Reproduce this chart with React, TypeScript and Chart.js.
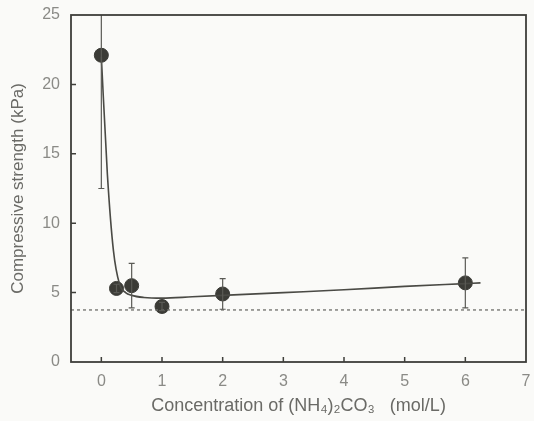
import React, { useEffect, useRef } from "react";
import { Chart, registerables } from "chart.js";

Chart.register(...registerables);

// Measured points
const pointX = [0, 0.25, 0.5, 1, 2, 6];
const pointY = [22.1, 5.3, 5.5, 4.0, 4.9, 5.7];
const errPlus = [9.6, 0.3, 1.6, 0.3, 1.1, 1.8];
const errMinus = [9.6, 0.3, 1.6, 0.3, 1.1, 1.8];

// Fitted curve
const curveX = [0, 0.1, 0.2, 0.3, 0.4, 0.5, 0.7, 1.0, 1.5, 2.0, 3.0, 4.0, 5.0, 6.0, 6.25];
const curveY = [22.0, 13.5, 8.0, 5.6, 5.0, 4.8, 4.65, 4.6, 4.7, 4.8, 5.0, 5.2, 5.45, 5.65, 5.7];

// Dashed reference level
const refLevel = 3.75;

// Axes
const xMin = -0.5;
const xMax = 7;
const xTickValues = [0, 1, 2, 3, 4, 5, 6, 7];
const yMin = 0;
const yMax = 25;
const yTickValues = [0, 5, 10, 15, 20, 25];

const xTitle = "Concentration of (NH₄)₂CO₃   (mol/L)";
const yTitle = "Compressive strength (kPa)";

const FONT = "'Liberation Sans', Arial, sans-serif";

const framePlugin = {
  id: "frameAndErrors",
  afterDatasetsDraw(chart: any) {
    const { ctx, chartArea } = chart;
    const xs = chart.scales.x;
    const ys = chart.scales.y;
    ctx.save();
    ctx.beginPath();
    ctx.rect(chartArea.left, chartArea.top, chartArea.right - chartArea.left, chartArea.bottom - chartArea.top);
    ctx.clip();
    ctx.strokeStyle = "#5a5a55";
    ctx.lineWidth = 1.2;
    for (let i = 0; i < pointX.length; i++) {
      const px = xs.getPixelForValue(pointX[i]);
      const top = ys.getPixelForValue(pointY[i] + errPlus[i]);
      const bot = ys.getPixelForValue(pointY[i] - errMinus[i]);
      ctx.beginPath();
      ctx.moveTo(px, top);
      ctx.lineTo(px, bot);
      ctx.moveTo(px - 3, top);
      ctx.lineTo(px + 3, top);
      ctx.moveTo(px - 3, bot);
      ctx.lineTo(px + 3, bot);
      ctx.stroke();
    }
    ctx.restore();
  },
  afterDraw(chart: any) {
    const { ctx, chartArea } = chart;
    const xs = chart.scales.x;
    const ys = chart.scales.y;
    ctx.save();
    ctx.strokeStyle = "#3e3e3a";
    ctx.lineWidth = 1.8;
    ctx.strokeRect(chartArea.left, chartArea.top, chartArea.right - chartArea.left, chartArea.bottom - chartArea.top);
    ctx.lineWidth = 1.5;
    ctx.beginPath();
    xTickValues.forEach((v) => {
      if (v <= xMin || v >= xMax) return;
      const px = xs.getPixelForValue(v);
      ctx.moveTo(px, chartArea.bottom);
      ctx.lineTo(px, chartArea.bottom - 5);
    });
    yTickValues.forEach((v) => {
      if (v <= yMin || v >= yMax) return;
      const py = ys.getPixelForValue(v);
      ctx.moveTo(chartArea.left, py);
      ctx.lineTo(chartArea.left + 5, py);
    });
    ctx.stroke();
    ctx.restore();
  },
};

export default function App() {
  const ref = useRef<HTMLCanvasElement | null>(null);
  useEffect(() => {
    document.body.style.margin = "0";
    document.body.style.background = "#fafaf8";
    const canvas = ref.current;
    if (!canvas) return;
    const chart = new Chart(canvas, {
      type: "scatter",
      data: {
        datasets: [
          {
            type: "line",
            data: [
              { x: xMin, y: refLevel },
              { x: xMax, y: refLevel },
            ],
            borderColor: "#6e6e6a",
            borderWidth: 1.3,
            borderDash: [3, 3],
            pointRadius: 0,
            fill: false,
          } as any,
          {
            type: "line",
            data: curveX.map((x, i) => ({ x, y: curveY[i] })),
            borderColor: "#4a4a45",
            borderWidth: 1.6,
            pointRadius: 0,
            cubicInterpolationMode: "monotone",
            fill: false,
          } as any,
          {
            type: "scatter",
            data: pointX.map((x, i) => ({ x, y: pointY[i] })),
            backgroundColor: "#3b3b36",
            borderColor: "#3b3b36",
            pointRadius: 7,
            pointHoverRadius: 7,
          },
        ],
      },
      options: {
        animation: false,
        responsive: false,
        layout: { padding: { top: 15, right: 6, left: 0, bottom: 0 } },
        plugins: { legend: { display: false }, tooltip: { enabled: false } },
        scales: {
          x: {
            type: "linear",
            min: xMin,
            max: xMax,
            afterBuildTicks: (s: any) => {
              s.ticks = xTickValues.map((v) => ({ value: v }));
            },
            afterFit: (s: any) => {
              s.height = 59;
              s.paddingLeft = 0;
              s.paddingRight = 0;
            },
            grid: { display: false, drawTicks: false },
            border: { display: false },
            ticks: {
              padding: 10,
              color: "#8a8a86",
              font: { family: FONT, size: 16 },
            },
            title: {
              display: true,
              text: xTitle,
              color: "#6a6a66",
              font: { family: FONT, size: 18 },
              padding: { top: 0, bottom: 4 },
            },
          },
          y: {
            type: "linear",
            min: yMin,
            max: yMax,
            afterBuildTicks: (s: any) => {
              s.ticks = yTickValues.map((v) => ({ value: v }));
            },
            afterFit: (s: any) => {
              s.width = 71;
              s.paddingTop = 0;
              s.paddingBottom = 0;
            },
            grid: { display: false, drawTicks: false },
            border: { display: false },
            ticks: {
              padding: 11,
              color: "#8a8a86",
              font: { family: FONT, size: 16 },
            },
            title: {
              display: true,
              text: yTitle,
              color: "#6a6a66",
              font: { family: FONT, size: 17 },
              padding: { top: 8, bottom: 0 },
            },
          },
        },
      },
      plugins: [framePlugin],
    });
    return () => chart.destroy();
  }, []);
  return (
    <div style={{ position: "absolute", left: 0, top: 0, width: 534, height: 421 }}>
      <canvas ref={ref} width={534} height={421} style={{ width: 534, height: 421 }} />
    </div>
  );
}
